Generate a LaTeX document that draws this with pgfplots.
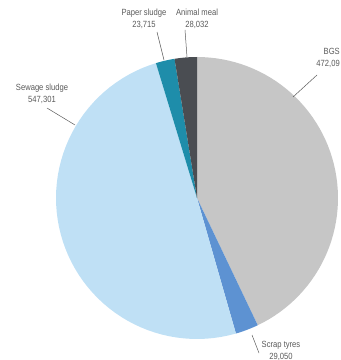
\documentclass[border=0pt]{standalone}
\usepackage{pgfplots}
\pgfplotsset{compat=1.18}
\usepackage{fontspec}
\setmainfont{Liberation Sans}[FakeStretch=0.85]
\definecolor{cBGS}{HTML}{C6C6C6}
\definecolor{cScrap}{HTML}{5D92D2}
\definecolor{cSew}{HTML}{BFE0F5}
\definecolor{cPaper}{HTML}{1E8DAA}
\definecolor{cAnimal}{HTML}{4A4D52}
\definecolor{txt}{HTML}{5A5A5A}
% values (tonnes)
\def\vBGS{472.09}
\def\vScrap{29.050}
\def\vSew{547.301}
\def\vPaper{23.715}
\def\vAnimal{28.032}
\pgfmathsetmacro\T{\vBGS+\vScrap+\vSew+\vPaper+\vAnimal}
\pgfmathsetmacro\eA{90}
\pgfmathsetmacro\eB{\eA-(\vBGS/\T)*360}
\pgfmathsetmacro\eC{\eB-(\vScrap/\T)*360}
\pgfmathsetmacro\eD{\eC-(\vSew/\T)*360}
\pgfmathsetmacro\eE{\eD-(\vPaper/\T)*360}
\pgfmathsetmacro\eF{\eE-(\vAnimal/\T)*360}
\def\R{141}
\tikzset{lbl/.style={font=\fontsize{9}{12}\selectfont, text=txt, align=center, inner sep=0pt}}
\begin{document}
\begin{tikzpicture}
\begin{axis}[
  width=341bp, height=360bp, scale only axis,
  xmin=-197, xmax=144, ymin=-162, ymax=198,
  hide axis, clip=false,
]
\addplot[fill=cBGS, draw=none, domain=\eB:\eA, samples=60] ({\R*cos(x)},{\R*sin(x)}) -- (axis cs:0,0) -- cycle;
\addplot[fill=cScrap, draw=none, domain=\eC:\eB, samples=10] ({\R*cos(x)},{\R*sin(x)}) -- (axis cs:0,0) -- cycle;
\addplot[fill=cSew, draw=none, domain=\eD:\eC, samples=60] ({\R*cos(x)},{\R*sin(x)}) -- (axis cs:0,0) -- cycle;
\addplot[fill=cPaper, draw=none, domain=\eE:\eD, samples=10] ({\R*cos(x)},{\R*sin(x)}) -- (axis cs:0,0) -- cycle;
\addplot[fill=cAnimal, draw=none, domain=\eF:\eE, samples=10] ({\R*cos(x)},{\R*sin(x)}) -- (axis cs:0,0) -- cycle;
% leader lines
\draw[txt, line width=0.5pt] (axis cs:-40,166) -- (axis cs:-33,138);
\draw[txt, line width=0.5pt] (axis cs:-12,168) -- (axis cs:-10,141);
\draw[txt, line width=0.5pt] (axis cs:120,123) -- (axis cs:96,101);
\draw[txt, line width=0.5pt] (axis cs:-150,90) -- (axis cs:-122,73);
\draw[txt, line width=0.5pt] (axis cs:55,-137) -- (axis cs:62,-155);
% labels
\node[lbl] at (axis cs:-53,179) {Paper sludge\\23,715};
\node[lbl] at (axis cs:0,179) {Animal meal\\28,032};
\node[lbl, anchor=east, align=right] at (axis cs:143,140) {BGS\\472,09};
\node[lbl] at (axis cs:-155,104) {Sewage sludge\\547,301};
\node[lbl] at (axis cs:84,-153) {Scrap tyres\\29,050};
\end{axis}
\pgfresetboundingbox
\path (current axis.south west) rectangle (current axis.north east);
\end{tikzpicture}
\end{document}
